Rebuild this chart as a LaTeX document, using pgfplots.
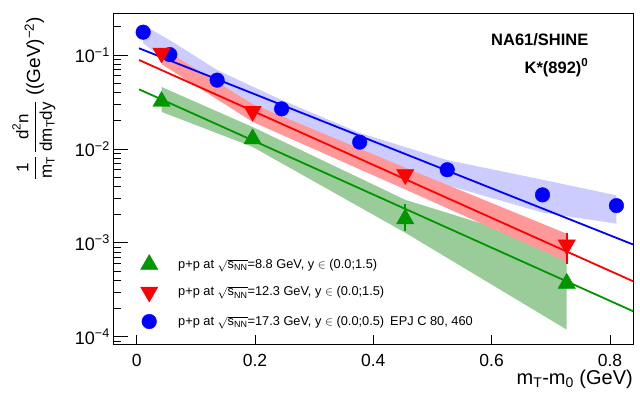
\documentclass[border=0pt]{standalone}
\usepackage{amsmath}
\usepackage{fontspec}
\setmainfont{Liberation Sans}
\usepackage{pgfplots}
\pgfplotsset{compat=1.18}

\definecolor{ppblue}{RGB}{0,0,255}
\definecolor{ppred}{RGB}{255,0,0}
\definecolor{ppgreen}{RGB}{0,150,0}
\definecolor{bandblue}{RGB}{204,204,255}
\definecolor{bandred}{RGB}{255,153,153}
\definecolor{bandgreen}{RGB}{153,204,153}

\pgfplotsset{
  markleg/.style={legend image code/.code={%
    \path[draw=none, fill=none] (0pt,-8pt) rectangle (18pt,8pt);
    \draw[mark repeat=2,mark phase=2,##1] plot coordinates {(0pt,0pt) (9pt,0pt) (18pt,0pt)};}},
}

\begin{document}
\begin{tikzpicture}
\path[use as bounding box] (0,0) rectangle (640pt,392pt);
\begin{axis}[
  at={(113pt,48pt)}, anchor=south west,
  width=520pt, height=331pt, scale only axis,
  xmin=-0.040, xmax=0.839,
  ymode=log, ymin=8.36e-5, ymax=0.28,
  axis line style={black, line width=0.8pt},
  tick align=inside,
  xtick pos=bottom, ytick pos=left,
  xtick={0,0.2,0.4,0.6,0.8},
  xticklabels={0,0.2,0.4,0.6,0.8},
  ytick={1e-4,1e-3,1e-2,1e-1},
  yticklabels={10\textsuperscript{−4},10\textsuperscript{−3},10\textsuperscript{−2},10\textsuperscript{−1}},
  minor ytick={9e-5,2e-4,3e-4,4e-4,5e-4,6e-4,7e-4,8e-4,9e-4,
               2e-3,3e-3,4e-3,5e-3,6e-3,7e-3,8e-3,9e-3,
               2e-2,3e-2,4e-2,5e-2,6e-2,7e-2,8e-2,9e-2,2e-1},
  major tick length=15pt, minor tick length=8pt,
  xtick style={/pgfplots/major tick length=9pt},
  tick style={black, line width=0.8pt},
  xticklabel style={font=\fontsize{17.5}{19}\selectfont, anchor=north, inner sep=0pt, yshift=-10pt},
  yticklabel style={font=\fontsize{18}{20}\selectfont, anchor=east, inner sep=0pt, xshift=-3pt},
  xlabel={m\textsubscript{T}-m\textsubscript{0} (GeV)},
  xlabel style={at={(axis description cs:1,-0.122)}, anchor=base east,
                font=\fontsize{20}{22}\selectfont, inner sep=0pt},
  ylabel={{\fontsize{17}{19}\selectfont$\displaystyle\frac{\text{1}}{\text{m}_{\text{T}}}\,\frac{\text{d}^{\text{2}}\text{n}}{\text{dm}_{\text{T}}\text{dy}}$}\ ((GeV)\textsuperscript{−2})},
  ylabel style={at={(axis description cs:-0.152,0.742)}, anchor=center,
                inner sep=0pt, font=\fontsize{19}{22}\selectfont},
  legend style={at={(0.052,0.271)}, anchor=north west, draw=none, fill=none,
                inner sep=0pt, row sep=11.5pt, column sep=20pt,
                font=\fontsize{12.8}{14}\selectfont, nodes={inner sep=0pt}},
  legend cell align=left,
]

% systematic uncertainty bands
\addplot[draw=none, fill=bandblue, forget plot] coordinates {
  (0.011,0.209) (0.056,0.144) (0.136,0.0692) (0.245,0.0332) (0.377,0.0148)
  (0.525,0.0076) (0.686,0.0047) (0.811,0.0032)
  (0.811,0.0016) (0.686,0.0021) (0.525,0.0041) (0.377,0.0093) (0.245,0.0208)
  (0.136,0.0425) (0.056,0.0802) (0.011,0.134)};
\addplot[draw=none, fill=bandgreen, forget plot] coordinates {
  (0.042,0.0457) (0.196,0.0171) (0.454,0.00287) (0.727,0.00084)
  (0.727,0.000119) (0.454,0.00128) (0.196,0.0105) (0.042,0.0248)};
\addplot[draw=none, fill=bandred, forget plot] coordinates {
  (0.042,0.119) (0.196,0.0301) (0.454,0.0063) (0.727,0.00125)
  (0.727,0.00063) (0.454,0.0037) (0.196,0.0194) (0.042,0.080)};

% exponential fits
\addplot[ppblue, line width=1.8pt, forget plot] coordinates {(0.004,0.118) (0.839,0.00096)};
\addplot[ppred, line width=1.8pt, forget plot] coordinates {(0.004,0.0885) (0.839,0.00039)};
\addplot[ppgreen, line width=1.8pt, forget plot] coordinates {(0.004,0.0431) (0.839,0.000187)};

% spectra
\addplot[only marks, mark=*, mark size=7.3pt, ppblue, forget plot] coordinates {
  (0.011,0.175) (0.056,0.101) (0.136,0.054) (0.245,0.0267) (0.377,0.0118)
  (0.525,0.0060) (0.686,0.00324) (0.811,0.00249)};
\addplot[only marks, mark=triangle*, mark size=10pt, mark options={rotate=180}, ppred, forget plot] coordinates {
  (0.042,0.105) (0.196,0.0252) (0.454,0.00533) (0.727,0.00095)};
\addplot[only marks, mark=triangle*, mark size=10pt, ppgreen, forget plot] coordinates {
  (0.042,0.032) (0.196,0.0128) (0.454,0.0018) (0.727,0.00037)};

% statistical errors
\addplot[ppred, only marks, mark=none, forget plot,
  error bars/.cd, y dir=both, y explicit,
  error bar style={line width=1.8pt}, error mark options={mark size=3.5pt, line width=1.8pt}]
  coordinates {(0.727,0.00095) += (0,0.00023) -= (0,0.0003)};
\addplot[ppgreen, only marks, mark=none, forget plot,
  error bars/.cd, y dir=both, y explicit,
  error bar style={line width=1.8pt}, error mark options={mark size=3.5pt, line width=1.8pt}]
  coordinates {(0.454,0.0018) += (0,0.00056) -= (0,0.00035)};

% legend
\addlegendimage{only marks, mark=triangle*, mark size=10pt, ppgreen, markleg}
\addlegendentry{p+p at $\sqrt{\text{s}_{\text{NN}}}$=8.8 GeV, y $\in$ (0.0;1.5)}
\addlegendimage{only marks, mark=triangle*, mark size=10pt, mark options={rotate=180}, ppred, markleg}
\addlegendentry{p+p at $\sqrt{\text{s}_{\text{NN}}}$=12.3 GeV, y $\in$ (0.0;1.5)}
\addlegendimage{only marks, mark=*, mark size=7.3pt, ppblue, markleg}
\addlegendentry{p+p at $\sqrt{\text{s}_{\text{NN}}}$=17.3 GeV, y $\in$ (0.0;0.5)\hspace{6pt}EPJ C 80, 460}

\node[anchor=base east, font=\fontsize{16.5}{18}\selectfont\bfseries]
  at (axis description cs:0.921,0.903) {NA61/SHINE};
\node[anchor=base east, font=\fontsize{16.5}{18}\selectfont\bfseries]
  at (axis description cs:0.921,0.818) {K*(892)\textsuperscript{0}};
\end{axis}
\end{tikzpicture}
\end{document}
